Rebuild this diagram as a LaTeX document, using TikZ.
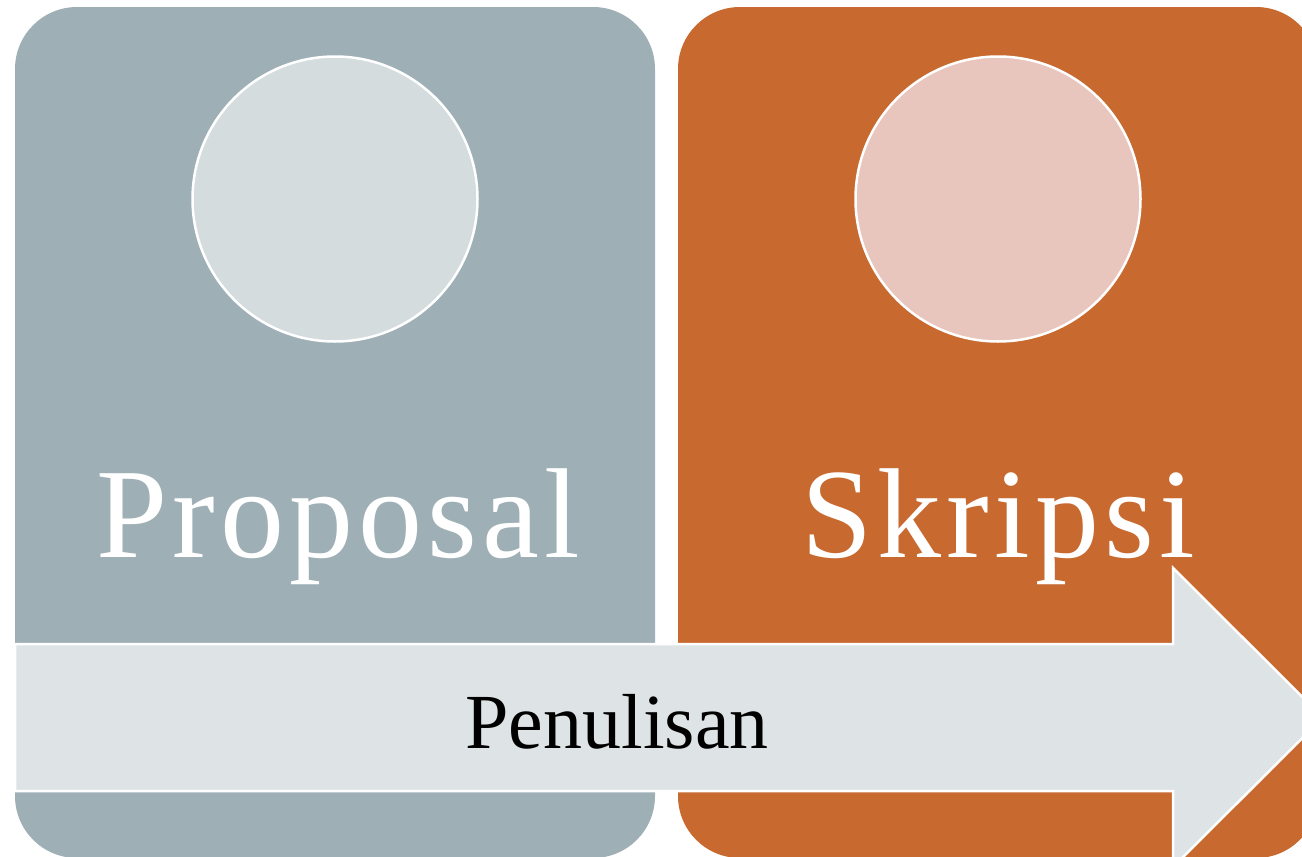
\documentclass[tikz,border=0pt]{standalone}
\usepackage{fontspec}
\setmainfont{Liberation Serif}
\newfontfamily\spacedserif[LetterSpace=4]{Liberation Serif}
\definecolor{panelgray}{HTML}{9EAFB5}
\definecolor{panelorange}{HTML}{C86930}
\definecolor{arrowfill}{HTML}{DEE3E5}
\definecolor{discgray}{HTML}{D4DCDE}
\definecolor{discrose}{HTML}{E8C5BD}
\tikzset{
  panel/.style={rounded corners=62pt},
  disc/.style={circle, draw=white, line width=2.5pt, minimum size=285pt, inner sep=0pt},
  bigtitle/.style={text=white, anchor=base, inner sep=0pt, font=\spacedserif\fontsize{128}{130}\selectfont},
  bandlabel/.style={text=black, anchor=base, inner sep=0pt, font=\fontsize{78}{80}\selectfont},
}
\begin{document}
\begin{tikzpicture}[x=1pt,y=-1pt]
\useasboundingbox (0,0) rectangle (1302,857);
\clip (0,0) rectangle (1302,857);
% two stage panels
\fill[panelgray, panel] (15,7) rectangle (655,858);
\fill[panelorange, panel] (678,7) rectangle (1318,858);
% discs
\node[disc, fill=discgray] (c1) at (335,199) {};
\node[disc, fill=discrose] (c2) at (998,199) {};
% stage titles
\node[bigtitle] (t1) at (338,557) {Proposal};
\node[bigtitle] (t2) at (998,557) {Skripsi};
% process arrow across both panels
\draw[fill=arrowfill, draw=white, line width=2.5pt, line join=miter]
  (15,644) -- (1173,644) -- (1173,568) -- (1323,717.5) -- (1173,867)
  -- (1173,791) -- (15,791) -- cycle;
\node[bandlabel] (lbl) at (617,748) {Penulisan};
\end{tikzpicture}
\end{document}
